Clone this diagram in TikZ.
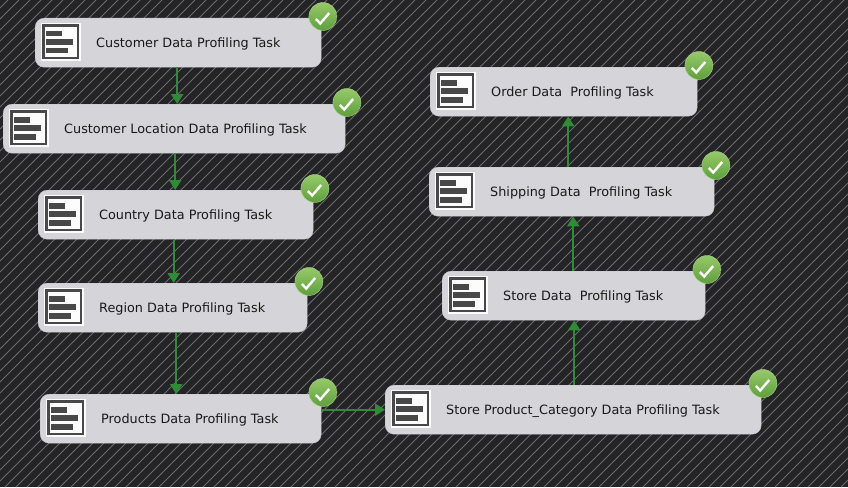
\documentclass[tikz,border=0pt]{standalone}
\usepackage{fontspec}
\setmainfont{DejaVu Sans}
\usetikzlibrary{arrows.meta}
\definecolor{canvasbg}{HTML}{242426}
\definecolor{stripe}{HTML}{6C6C70}
\definecolor{boxfill}{HTML}{D5D5D9}
\definecolor{boxedge}{HTML}{C4C4C8}
\definecolor{icondark}{HTML}{484849}
\definecolor{linkgreen}{HTML}{2E8B36}
\definecolor{okhigh}{HTML}{96C96A}
\definecolor{oklow}{HTML}{5E9F3C}
\tikzset{
	taskbox/.style={draw=boxedge, fill=boxfill, rounded corners=9pt, minimum height=49pt, inner sep=0pt, anchor=north west},
	tasklabel/.style={anchor=west, inner sep=0pt, font=\fontsize{12.8}{15}\selectfont, text=black!90},
	okmark/.style={circle, minimum size=28pt, inner sep=0pt, draw=okhigh!80!white, top color=okhigh, bottom color=oklow},
	link/.style={draw=linkgreen, line width=2.4pt, -{Triangle[width=12pt,length=10pt]}}
}
\begin{document}
\begin{tikzpicture}[x=1pt,y=-1pt]
	% Define the background
	\fill[canvasbg] (0,0) rectangle (848,487);
	\begin{scope}
		\clip (0,0) rectangle (848,487);
		\foreach \k in {-490,-479,...,850} \draw[stripe, line width=1pt] (\k,487) -- ++(487,-487);
	\end{scope}
	% Create Tasks
	\foreach \name/\l/\t/\w/\txt in {
		cust/35/18/286/Customer Data Profiling Task,
		custloc/3/104/342/Customer Location Data Profiling Task,
		country/38/190/275/Country Data Profiling Task,
		region/38/283/269/Region Data Profiling Task,
		products/40/394/281/Products Data Profiling Task,
		storecat/385/385/376/Store Product\_Category Data Profiling Task,
		store/442/271/263/Store Data\ \ Profiling Task,
		shipping/429/167/285/Shipping Data\ \ Profiling Task,
		order/430/67/267/Order Data\ \ Profiling Task}{
		\node[taskbox, minimum width=\w pt] (\name) at (\l,\t) {};
		\node[tasklabel] (\name-label) at ([shift={(61pt,-1pt)}]\name.west) {\txt};
		% Add icon
		\begin{scope}[shift={(\name.north west)}]
			\fill[white!92!boxfill] (6,5) rectangle (46,43);
			\draw[icondark, line width=2.6pt] (8.5,7.5) rectangle (43,40);
			\fill[icondark] (11,13) rectangle (27,18.5);
			\fill[icondark] (11,21) rectangle (38,27);
			\fill[icondark] (11,30) rectangle (33,35.5);
		\end{scope}
		% Add check mark
		\node[okmark] (\name-ok) at ([shift={(1.5pt,1.5pt)}]\name.north east) {};
		\draw[white, line width=2.4pt] ([shift={(-7pt,-2.5pt)}]\name-ok.center) -- ([shift={(-2.7pt,-7pt)}]\name-ok.center) -- ([shift={(6.3pt,3.5pt)}]\name-ok.center);
	}
	% Connect Tasks
	\draw[link] ([xshift=-1pt]cust.south) -- ([xshift=3pt]custloc.north);
	\draw[link] ([xshift=1pt]custloc.south) -- ([xshift=-0.5pt]country.north);
	\draw[link] ([xshift=-2pt]country.south) -- ([xshift=1pt]region.north);
	\draw[link] ([xshift=3.5pt]region.south) -- ([xshift=-4.5pt]products.north);
	\draw[link] (products.east |- storecat.west) -- (storecat.west);
	\draw[link] ([xshift=1pt]storecat.north) -- ([xshift=0.5pt]store.south);
	\draw[link] ([xshift=-0.5pt]store.north) -- ([xshift=1.5pt]shipping.south);
	\draw[link] ([xshift=-3.5pt]shipping.north) -- ([xshift=4.5pt]order.south);
\end{tikzpicture}
\end{document}
